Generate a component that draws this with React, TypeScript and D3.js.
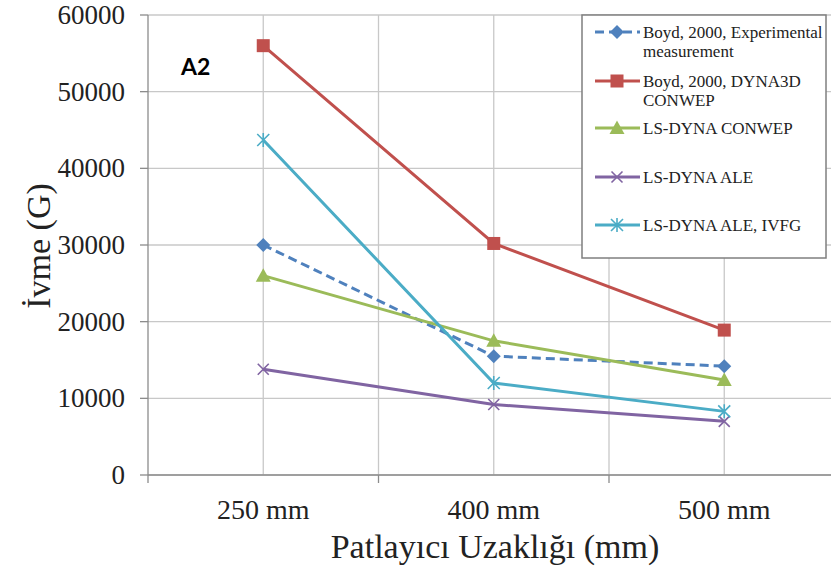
import React from "react";
import * as d3 from "d3";

const categories = ["250 mm", "400 mm", "500 mm"];
const boydExp = [30000, 15500, 14200];
const boydDyna = [56000, 30200, 18900];
const lsConwep = [26000, 17500, 12400];
const lsAle = [13800, 9200, 7000];
const lsAleIvfg = [43700, 12000, 8300];
const yTicks = [0, 10000, 20000, 30000, 40000, 50000, 60000];

const series = [
  { name: ["Boyd, 2000, Experimental", "measurement"], values: boydExp, color: "#4F81BD", marker: "diamond", dash: "9,5" },
  { name: ["Boyd, 2000, DYNA3D", "CONWEP"], values: boydDyna, color: "#C0504D", marker: "square", dash: null },
  { name: ["LS-DYNA CONWEP"], values: lsConwep, color: "#9BBB59", marker: "triangle", dash: null },
  { name: ["LS-DYNA ALE"], values: lsAle, color: "#8064A2", marker: "x", dash: null },
  { name: ["LS-DYNA ALE, IVFG"], values: lsAleIvfg, color: "#4BACC6", marker: "star", dash: null },
];

const W = 831, H = 574;
const left = 148, right = 839.5, top = 15, bottom = 475;
const serif = "'Liberation Serif', 'Times New Roman', serif";

function Marker({ type, x, y, color }: { type: string; x: number; y: number; color: string }) {
  if (type === "diamond") {
    const s = 7;
    return <path d={`M${x},${y - s}L${x + s},${y}L${x},${y + s}L${x - s},${y}Z`} fill={color} />;
  }
  if (type === "square") {
    const s = 6.5;
    return <rect x={x - s} y={y - s} width={2 * s} height={2 * s} fill={color} />;
  }
  if (type === "triangle") {
    const s = 7.5;
    return <path d={`M${x},${y - s}L${x + s},${y + s * 0.8}L${x - s},${y + s * 0.8}Z`} fill={color} />;
  }
  if (type === "x") {
    const s = 5.5;
    return <path d={`M${x - s},${y - s}L${x + s},${y + s}M${x - s},${y + s}L${x + s},${y - s}`} stroke={color} strokeWidth={1.6} fill="none" />;
  }
  const s = 6;
  return (
    <path
      d={`M${x - s},${y - s}L${x + s},${y + s}M${x - s},${y + s}L${x + s},${y - s}M${x},${y - s - 1}L${x},${y + s + 1}`}
      stroke={color}
      strokeWidth={1.6}
      fill="none"
    />
  );
}

export default function App() {
  const x = d3.scaleBand<string>().domain(categories).range([left, right]).padding(0);
  const y = d3.scaleLinear().domain([0, 60000]).range([bottom, top]);
  const cx = (c: string) => (x(c) as number) + x.bandwidth() / 2;
  const line = d3
    .line<number>()
    .x((_, i) => cx(categories[i]))
    .y((v) => y(v));

  const vGrid: number[] = [];
  categories.forEach((c) => {
    vGrid.push(x(c) as number);
    vGrid.push(cx(c));
  });
  vGrid.push(right);

  const legendX = 582, legendY = 15, legendW = 244, legendH = 243;
  const legendRows = [32, 81, 128, 177, 225];

  return (
    <svg width={W} height={H} style={{ position: "absolute", left: 0, top: 0, background: "#fff" }}>
      <rect x={0} y={0} width={W} height={H} fill="#fff" />
      {/* grid */}
      {yTicks.map((t) => (
        <line key={"h" + t} x1={left} x2={right} y1={y(t)} y2={y(t)} stroke="#C8C8C8" strokeWidth={1.3} />
      ))}
      {vGrid.slice(1).map((g, i) => (
        <line key={"v" + i} x1={g} x2={g} y1={top} y2={bottom} stroke="#C8C8C8" strokeWidth={1.3} />
      ))}
      {/* axes */}
      <line x1={left} x2={left} y1={top} y2={bottom} stroke="#8C8C8C" strokeWidth={1.3} />
      <line x1={left} x2={right} y1={bottom} y2={bottom} stroke="#8C8C8C" strokeWidth={1.3} />
      {yTicks.map((t) => (
        <line key={"yt" + t} x1={left - 8} x2={left} y1={y(t)} y2={y(t)} stroke="#8C8C8C" strokeWidth={1.3} />
      ))}
      {categories.map((c) => (
        <line key={"xt" + c} x1={x(c) as number} x2={x(c) as number} y1={bottom} y2={bottom + 8} stroke="#8C8C8C" strokeWidth={1.3} />
      ))}
      {yTicks.map((t) => (
        <text key={"yl" + t} x={125} y={y(t) + 9} textAnchor="end" fontFamily={serif} fontSize={27} fill="#222">
          {t}
        </text>
      ))}
      {categories.map((c) => (
        <text key={"xl" + c} x={cx(c)} y={519} textAnchor="middle" fontFamily={serif} fontSize={28} fill="#222">
          {c}
        </text>
      ))}
      <text x={495} y={558} textAnchor="middle" fontFamily={serif} fontSize={34} fill="#222">
        Patlayıcı Uzaklığı (mm)
      </text>
      <text transform="translate(50,246) rotate(-90)" textAnchor="middle" fontFamily={serif} fontSize={34} fill="#222">
        İvme (G)
      </text>
      <text x={181} y={75} fontFamily="Lato, 'Liberation Sans', sans-serif" fontWeight="bold" fontSize={23} fill="#000">
        A2
      </text>
      {/* series */}
      {series.map((s, si) => (
        <g key={"s" + si}>
          <path
            d={line(s.values) || ""}
            fill="none"
            stroke={s.color}
            strokeWidth={3}
            strokeDasharray={s.dash || undefined}
          />
          {s.values.map((v, i) => (
            <Marker key={i} type={s.marker} x={cx(categories[i])} y={y(v)} color={s.color} />
          ))}
        </g>
      ))}
      {/* legend */}
      <rect x={legendX} y={legendY} width={legendW} height={legendH} fill="#fff" stroke="#7F7F7F" strokeWidth={1.5} />
      {series.map((s, si) => {
        const ly = legendRows[si];
        return (
          <g key={"l" + si}>
            <line x1={595} x2={640} y1={ly} y2={ly} stroke={s.color} strokeWidth={3} strokeDasharray={s.dash ? "9,5" : undefined} />
            <Marker type={s.marker} x={617} y={ly} color={s.color} />
            {s.name.map((n, ni) => (
              <text key={ni} x={643} y={ly + 6 + ni * 19} fontFamily={serif} fontSize={17} fill="#222">
                {n}
              </text>
            ))}
          </g>
        );
      })}
    </svg>
  );
}
